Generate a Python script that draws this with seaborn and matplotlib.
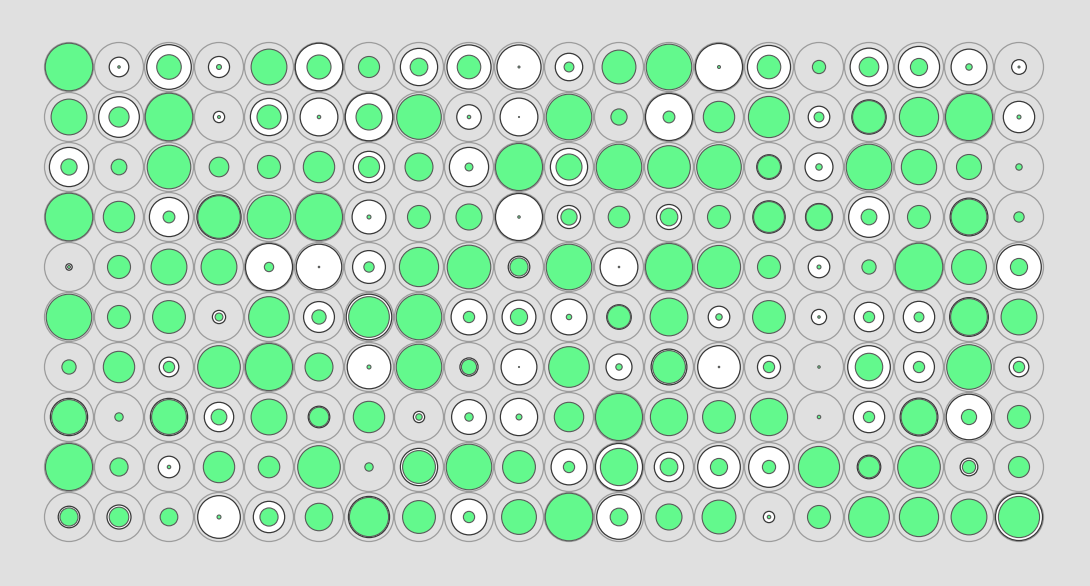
import numpy as np
import pandas as pd
import seaborn as sns
from matplotlib import pyplot as plt

# radius of the white disc in each cell, as a fraction of the cell circle (0 = none)
white_r = [
    [0, .40, .91, .43, 0, .97, 0, .76, .90, .90, .56, 0, 0, .96, .88, 0, .77, .84, .73, .30],
    [0, .83, 0, .23, .76, .77, .97, 0, .50, .77, 0, 0, .96, 0, 0, .44, .70, 0, 0, .64],
    [.80, 0, 0, 0, 0, 0, .64, 0, .80, 0, .76, 0, 0, 0, .50, .57, 0, 0, 0, 0],
    [0, 0, .80, .90, 0, 0, .69, 0, 0, .96, .47, 0, .51, 0, .66, .55, .83, 0, .77, 0],
    [.13, 0, 0, 0, .96, .93, .67, 0, 0, .44, 0, .77, 0, 0, 0, .44, 0, 0, 0, .91],
    [0, 0, 0, .27, 0, .63, .93, 0, .73, .69, .73, .50, 0, .44, 0, .31, .60, .64, .79, 0],
    [0, 0, .40, 0, 0, 0, .89, 0, .37, .73, 0, .53, .73, .87, .47, 0, .87, .63, 0, .40],
    [.76, 0, .76, .60, 0, .44, 0, .23, .71, .76, 0, 0, 0, 0, 0, 0, .64, .77, .93, 0],
    [0, 0, .44, 0, 0, 0, 0, .76, 0, 0, .73, .96, .60, .87, .83, 0, .48, 0, .36, 0],
    [.44, .49, 0, .87, .64, 0, .84, 0, .73, 0, 0, .91, 0, 0, .23, 0, 0, 0, 0, .96],
]

# radius of the green disc in each cell, same units
green_r = [
    [.97, .05, .50, .10, .73, .49, .43, .36, .48, .04, .20, .69, .93, .06, .48, .27, .40, .35, .13, .04],
    [.73, .41, .97, .06, .49, .07, .53, .91, .07, .02, .93, .33, .24, .64, .84, .20, .67, .80, .96, .08],
    [.33, .32, .89, .40, .47, .64, .43, .57, .16, .96, .53, .93, .87, .91, .47, .13, .93, .72, .51, .13],
    [.97, .64, .24, .87, .89, .96, .08, .47, .53, .05, .33, .44, .36, .47, .63, .53, .32, .47, .73, .21],
    [.06, .47, .73, .73, .19, .03, .21, .80, .89, .37, .93, .03, .96, .88, .47, .08, .29, .97, .71, .35],
    [.93, .47, .67, .16, .83, .29, .83, .93, .23, .35, .11, .47, .77, .13, .67, .05, .23, .20, .75, .73],
    [.29, .64, .23, .87, .96, .57, .08, .93, .31, .02, .83, .13, .67, .03, .23, .05, .56, .23, .91, .23],
    [.71, .17, .71, .32, .73, .40, .64, .13, .17, .12, .60, .96, .76, .67, .76, .07, .23, .73, .31, .47],
    [.96, .37, .07, .64, .44, .87, .17, .67, .93, .67, .23, .76, .36, .35, .27, .84, .44, .87, .27, .43],
    [.37, .40, .36, .08, .37, .56, .80, .67, .23, .71, .97, .36, .53, .69, .07, .47, .83, .80, .73, .84],
]

BG = "#e0e0e0"
GREEN = "#63f98d"
DPI = 100
CELL_PX = 24.5                              # radius of the grey cell circle in pixels
FULL_AREA = (2 * CELL_PX * 72 / DPI) ** 2   # scatter area (pt^2) of a full-size disc


def main():
    n_rows, n_cols = len(green_r), len(green_r[0])
    rows, cols = np.meshgrid(np.arange(n_rows), np.arange(n_cols), indexing="ij")
    df = pd.DataFrame({
        "col": cols.ravel(),
        "row": rows.ravel(),
        "white": np.array(white_r).ravel() ** 2,   # area ~ r^2
        "green": np.array(green_r).ravel() ** 2,
        "cell": 1.0,
    })

    sns.set_theme(style="white", rc={"axes.facecolor": BG, "figure.facecolor": BG})

    fig = plt.figure(figsize=(10.9, 5.86), dpi=DPI)
    ax = fig.add_axes([0, 0, 1, 1])

    common = dict(x="col", y="row", size_norm=(0, 1), sizes=(0, FULL_AREA),
                  legend=False, ax=ax)

    sns.scatterplot(data=df, size="cell", color=BG, edgecolor="#9c9c9c",
                    linewidth=0.9, **common)
    sns.scatterplot(data=df[df["white"] > 0], size="white", color="white",
                    edgecolor="#383838", linewidth=0.9, **common)
    sns.scatterplot(data=df, size="green", color=GREEN, edgecolor="#5a5a5a",
                    linewidth=0.8, **common)

    # cells are 50 px apart, first centre at (69, 67) px
    ax.set_xlim(-69 / 50, (1090 - 69) / 50)
    ax.set_ylim((586 - 67) / 50, -67 / 50)
    ax.set_axis_off()

    fig.savefig("out.png", dpi=DPI, facecolor=BG)
    plt.close(fig)


if __name__ == '__main__':
    main()
